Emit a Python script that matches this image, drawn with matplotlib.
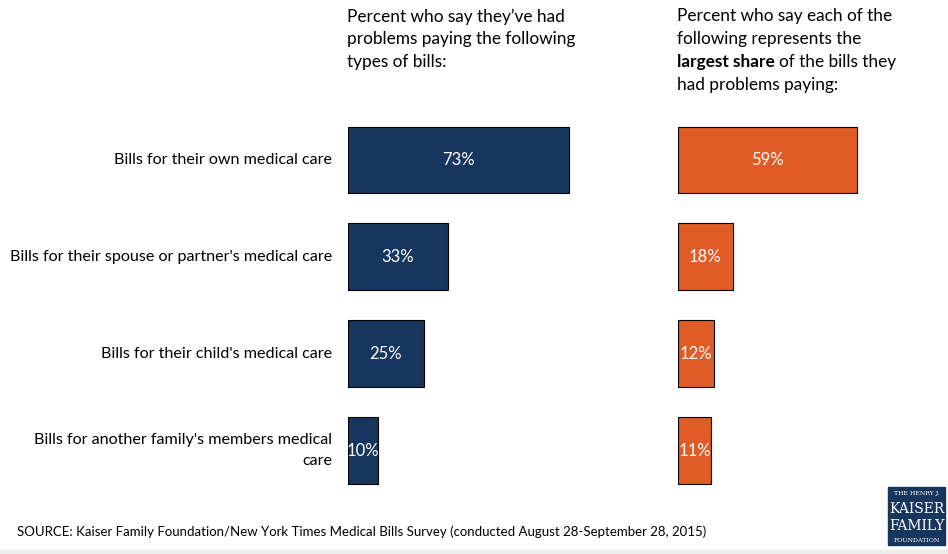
import matplotlib.pyplot as plt
from matplotlib.patches import Rectangle

plt.rcParams['font.family'] = ['Lato', 'DejaVu Sans']

# survey answers
categories = ["Bills for their own medical care",
              "Bills for their spouse or partner's medical care",
              "Bills for their child's medical care",
              "Bills for another family's members medical\ncare"]
had_problems = [73, 33, 25, 10]
largest_share = [59, 18, 12, 11]

navy = '#17365d'
orange = '#e05c27'

W, H = 948, 554
fig = plt.figure(figsize=(W / 100, H / 100), dpi=100)

def px_axes(x0, x1, y0, y1):
    # axes placed in pixel coordinates (top-left origin)
    return fig.add_axes([x0 / W, 1 - y1 / H, (x1 - x0) / W, (y1 - y0) / H])

scale = 3.03  # pixels per percent
top, bottom = 111.6, 499.0

ax1 = px_axes(348, 678, top, bottom)
ax2 = px_axes(678, 948, top, bottom)
pos = list(range(len(categories)))

for ax, vals, col in [(ax1, had_problems, navy), (ax2, largest_share, orange)]:
    ax.barh(pos, vals, height=0.69, color=col, edgecolor='black', linewidth=0.8)
    ax.set_ylim(3.5, -0.5)
    ax.set_xlim(0, ax.get_position().width * W / scale)
    for p, v in zip(pos, vals):
        ax.text(v / 2, p, f'{v}%', ha='center', va='center', color='white', fontsize=12)
    ax.axis('off')

for p, c in zip(pos, categories):
    ax1.text(-16 / scale, p, c, ha='right', va='center', fontsize=11.6, linespacing=1.6)

# column headings, one text per line
title_size = 12.4
line_tops = [8.5, 31.3, 54.1, 76.9]
left_lines = ["Percent who say they\u2019ve had",
              "problems paying the following",
              "types of bills:"]
for y, s in zip(line_tops, left_lines):
    fig.text(347 / W, 1 - y / H, s, ha='left', va='top', fontsize=title_size)

right_lines = ["Percent who say each of the",
               "following represents the",
               None,
               "had problems paying:"]
for y, s in zip(line_tops, right_lines):
    if s:
        fig.text(677 / W, 1 - y / H, s, ha='left', va='top', fontsize=title_size)

bold = fig.text(677 / W, 1 - line_tops[2] / H, "largest share", ha='left', va='top',
                fontsize=title_size, fontweight='bold')
fig.canvas.draw()
bb = bold.get_window_extent()
fig.text(bb.x1 / W + 4 / W, 1 - line_tops[2] / H, "of the bills they",
         ha='left', va='top', fontsize=title_size)

fig.text(17 / W, 1 - 532 / H,
         "SOURCE: Kaiser Family Foundation/New York Times Medical Bills Survey "
         "(conducted August 28-September 28, 2015)",
         ha='left', va='center', fontsize=9.5)

# logo box
fig.patches.append(Rectangle((888 / W, 1 - 545 / H), 57 / W, 58 / H,
                             transform=fig.transFigure, color=navy))
fig.text(916.5 / W, 1 - 494 / H, "THE HENRY J.", ha='center', va='center',
         color='white', fontsize=4.5, family='DejaVu Serif')
fig.text(916.5 / W, 1 - 509 / H, "KAISER", ha='center', va='center',
         color='white', fontsize=10, family='DejaVu Serif')
fig.text(916.5 / W, 1 - 526 / H, "FAMILY", ha='center', va='center',
         color='white', fontsize=10, family='DejaVu Serif')
fig.text(916.5 / W, 1 - 540 / H, "FOUNDATION", ha='center', va='center',
         color='white', fontsize=4.5, family='DejaVu Serif')

fig.patches.append(Rectangle((0, 0), 1, 4 / H, transform=fig.transFigure, color='#eeeeee'))

fig.savefig('out.png', dpi=100)
